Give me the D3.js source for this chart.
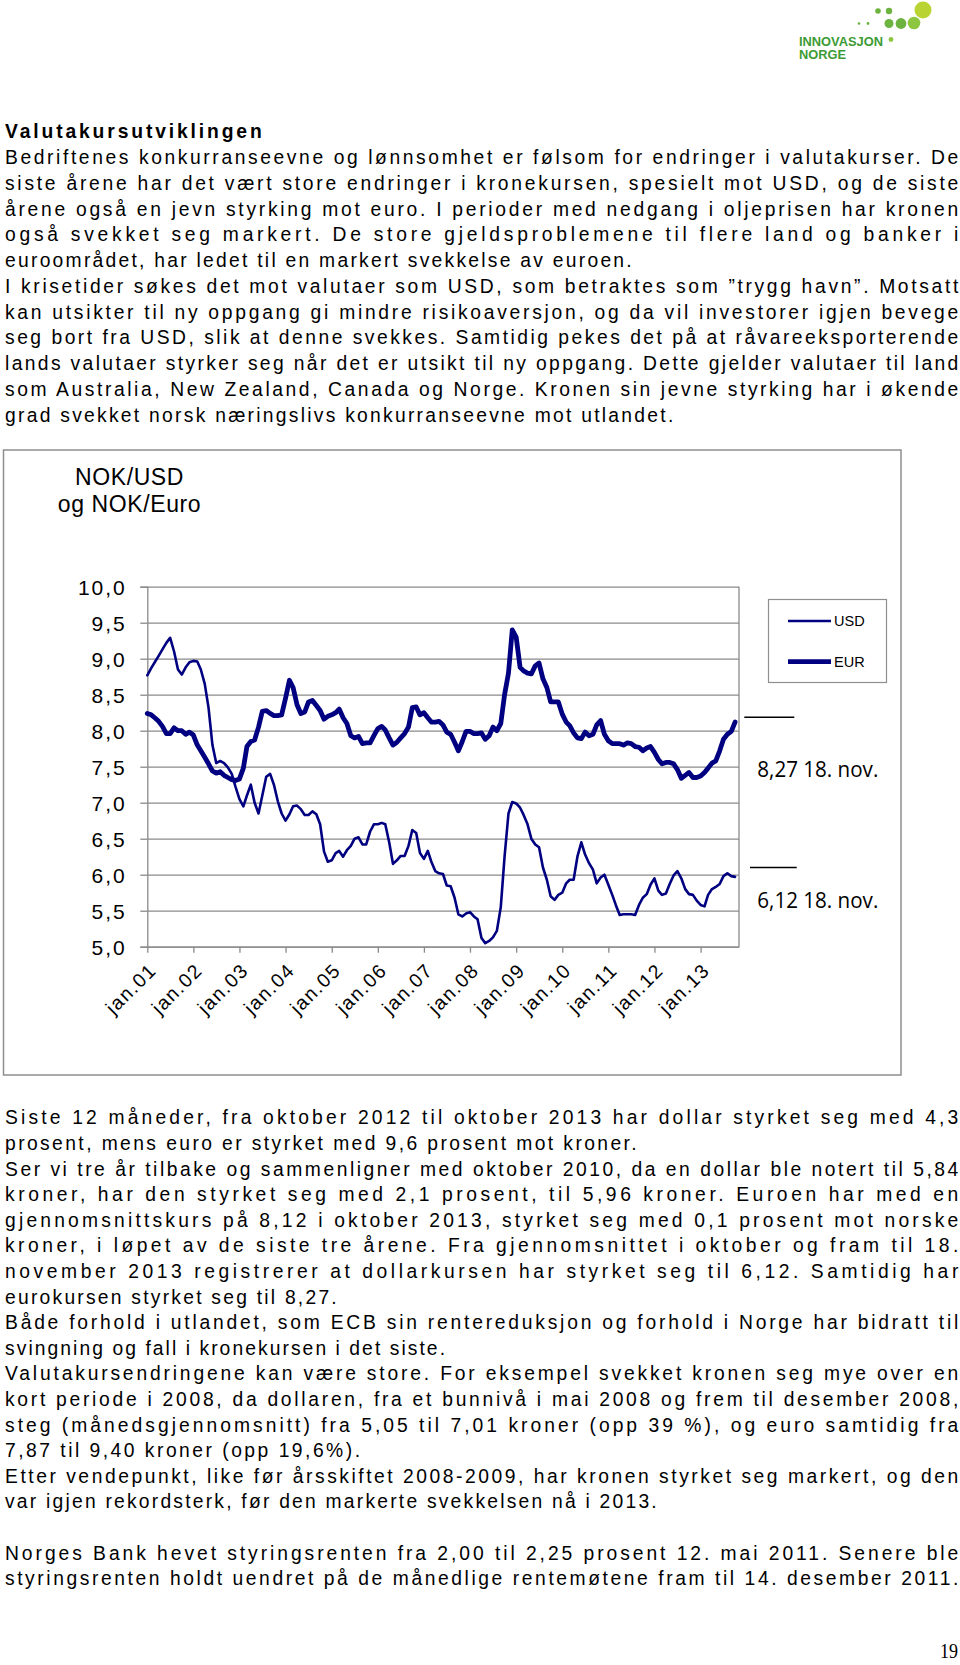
<!DOCTYPE html>
<html><head><meta charset="utf-8">
<script src="https://cdn.jsdelivr.net/npm/d3@7"></script>
<style>html,body{margin:0;padding:0;background:#fff;} svg{display:block;}</style>
</head><body><svg id="page" width="960" height="1665"></svg>
<script>
// ---------- DATA (monthly averages, jan 2001 - okt 2013) ----------
const startMonth = [2001, 0];
const usd = [
 8.77,8.87,8.95,9.04,9.13,9.22,9.29,9.10,8.85,8.78,8.88,8.95,
 8.97,8.96,8.85,8.65,8.32,7.80,7.55,7.58,7.55,7.49,7.40,7.22,
 7.05,6.95,7.10,7.25,7.00,6.85,7.10,7.36,7.40,7.25,7.02,6.85,
 6.75,6.84,6.95,6.96,6.91,6.83,6.83,6.88,6.84,6.70,6.32,6.18,
 6.20,6.30,6.33,6.25,6.34,6.40,6.50,6.52,6.42,6.42,6.60,6.70,
 6.70,6.72,6.70,6.45,6.15,6.20,6.26,6.26,6.40,6.62,6.58,6.30,
 6.22,6.33,6.18,6.05,6.02,6.01,5.85,5.84,5.68,5.45,5.42,5.46,
 5.48,5.42,5.38,5.12,5.05,5.08,5.13,5.22,5.55,6.25,6.85,7.01,
 6.99,6.93,6.83,6.70,6.50,6.42,6.38,6.10,5.93,5.70,5.65,5.72,
 5.75,5.88,5.93,5.93,6.25,6.45,6.28,6.16,6.07,5.88,5.96,6.00,
 5.86,5.72,5.58,5.44,5.45,5.45,5.45,5.44,5.58,5.68,5.73,5.86,
 5.95,5.78,5.72,5.74,5.87,5.99,6.05,5.95,5.80,5.73,5.72,5.64,
 5.58,5.56,5.72,5.80,5.83,5.87,5.98,6.02,5.98,5.97
];
const eur = [
 8.24,8.22,8.18,8.13,8.06,7.96,7.96,8.04,8.00,8.00,7.95,7.98,
 7.94,7.80,7.72,7.63,7.54,7.44,7.41,7.43,7.38,7.35,7.32,7.31,
 7.33,7.48,7.78,7.85,7.87,8.05,8.27,8.28,8.24,8.21,8.21,8.22,
 8.45,8.70,8.60,8.36,8.24,8.26,8.40,8.42,8.35,8.28,8.16,8.20,
 8.22,8.25,8.30,8.18,8.10,7.93,7.90,7.92,7.82,7.83,7.83,7.93,
 8.03,8.06,8.01,7.90,7.80,7.84,7.90,7.96,8.05,8.32,8.33,8.22,
 8.25,8.18,8.12,8.12,8.13,8.08,7.98,7.95,7.84,7.72,7.85,7.99,
 7.99,7.96,7.96,7.97,7.88,7.93,8.05,8.00,8.10,8.50,8.80,9.40,
 9.30,8.88,8.83,8.80,8.79,8.90,8.94,8.72,8.60,8.40,8.40,8.40,
 8.23,8.12,8.07,7.97,7.90,7.89,7.98,7.93,7.95,8.08,8.14,7.95,
 7.86,7.82,7.82,7.82,7.80,7.83,7.82,7.78,7.77,7.72,7.76,7.78,
 7.70,7.60,7.54,7.56,7.56,7.54,7.46,7.34,7.38,7.42,7.35,7.35,
 7.37,7.42,7.48,7.55,7.58,7.72,7.88,7.95,7.99,8.12
];
const seriesNames = ["USD", "EUR"];
const yTickValues = [5.0, 5.5, 6.0, 6.5, 7.0, 7.5, 8.0, 8.5, 9.0, 9.5, 10.0];
const xTickLabels = ["jan.01","jan.02","jan.03","jan.04","jan.05","jan.06","jan.07",
                     "jan.08","jan.09","jan.10","jan.11","jan.12","jan.13"];
const latestLabels = ["8,27 18. nov.", "6,12 18. nov."];
const latestValues = [8.27, 6.12];
const chartTitle = ["NOK/USD", "og NOK/Euro"];

// ---------- TEXT ----------
const heading = "Valutakursutviklingen";
const introLines = [
 "Bedriftenes konkurranseevne og lønnsomhet er følsom for endringer i valutakurser. De",
 "siste årene har det vært store endringer i kronekursen, spesielt mot USD, og de siste",
 "årene også en jevn styrking mot euro. I perioder med nedgang i oljeprisen har kronen",
 "også svekket seg markert. De store gjeldsproblemene til flere land og banker i",
 "euroområdet, har ledet til en markert svekkelse av euroen.",
 "I krisetider søkes det mot valutaer som USD, som betraktes som ”trygg havn”. Motsatt",
 "kan utsikter til ny oppgang gi mindre risikoaversjon, og da vil investorer igjen bevege",
 "seg bort fra USD, slik at denne svekkes. Samtidig pekes det på at råvareeksporterende",
 "lands valutaer styrker seg når det er utsikt til ny oppgang. Dette gjelder valutaer til land",
 "som Australia, New Zealand, Canada og Norge. Kronen sin jevne styrking har i økende",
 "grad svekket norsk næringslivs konkurranseevne mot utlandet."
];
const outroLines = [
 "Siste 12 måneder, fra oktober 2012 til oktober 2013 har dollar styrket seg med 4,3",
 "prosent, mens euro er styrket med 9,6 prosent mot kroner.",
 "Ser vi tre år tilbake og sammenligner med oktober 2010, da en dollar ble notert til 5,84",
 "kroner, har den styrket seg med 2,1 prosent, til 5,96 kroner. Euroen har med en",
 "gjennomsnittskurs på 8,12 i oktober 2013, styrket seg med 0,1 prosent mot norske",
 "kroner, i løpet av de siste tre årene. Fra gjennomsnittet i oktober og fram til 18.",
 "november 2013 registrerer at dollarkursen har styrket seg til 6,12. Samtidig har",
 "eurokursen styrket seg til 8,27.",
 "Både forhold i utlandet, som ECB sin rentereduksjon og forhold i Norge har bidratt til",
 "svingning og fall i kronekursen i det siste.",
 "Valutakursendringene kan være store. For eksempel svekket kronen seg mye over en",
 "kort periode i 2008, da dollaren, fra et bunnivå i mai 2008 og frem til desember 2008,",
 "steg (månedsgjennomsnitt) fra 5,05 til 7,01 kroner (opp 39 %), og euro samtidig fra",
 "7,87 til 9,40 kroner (opp 19,6%).",
 "Etter vendepunkt, like før årsskiftet 2008-2009, har kronen styrket seg markert, og den",
 "var igjen rekordsterk, før den markerte svekkelsen nå i 2013.",
 "",
 "Norges Bank hevet styringsrenten fra 2,00 til 2,25 prosent 12. mai 2011. Senere ble",
 "styringsrenten holdt uendret på de månedlige rentemøtene fram til 14. desember 2011."
];
const pageNumber = "19";

// ---------- LAYOUT ----------
const svg = d3.select("#page");
const FULL = 953.3;
const introWidths = [FULL,FULL,FULL,FULL,626.7,FULL,FULL,FULL,FULL,FULL,668.3];
const outroWidths = [FULL,631.7,FULL,FULL,FULL,FULL,FULL,331.7,FULL,440,FULL,FULL,FULL,355,FULL,651.7,0,FULL,FULL];
const bodyFont = "'Liberation Sans', Arial, sans-serif";
const bodySize = 19.3;

function textBlock(lines, widths, y0, step) {
  lines.forEach((t, i) => {
    if (!t) return;
    svg.append("text")
      .attr("x", 5).attr("y", y0 + i * step)
      .attr("font-family", bodyFont).attr("font-size", bodySize)
      .attr("textLength", widths[i]).attr("lengthAdjust", "spacing")
      .attr("fill", "#000")
      .text(t);
  });
}
svg.append("text").attr("x", 5).attr("y", 138.3)
  .attr("font-family", bodyFont).attr("font-size", bodySize).attr("font-weight", "bold")
  .attr("textLength", 256.7).attr("lengthAdjust", "spacing").text(heading);
textBlock(introLines, introWidths, 164, 25.77);
textBlock(outroLines, outroWidths, 1124.3, 25.6);

svg.append("text").attr("x", 940).attr("y", 1658)
  .attr("font-family", "'Liberation Serif', 'Times New Roman', serif")
  .attr("font-size", 20).attr("textLength", 18).attr("lengthAdjust", "spacingAndGlyphs")
  .text(pageNumber);

// ---------- LOGO ----------
const logo = svg.append("g");
[[923,10,8.5,"#b9d432"],[914,23,6.3,"#8dc63f"],[901,23.5,5.4,"#6cb33f"],[889,23.5,4.5,"#6cb33f"],
 [889,11,3.2,"#6cb33f"],[878,11,2.8,"#6cb33f"],[868,23.5,1.4,"#6cb33f"],[859,23.5,1.3,"#6cb33f"],
 [891,39.5,2.4,"#8dc63f"]].forEach(d => {
  logo.append("circle").attr("cx", d[0]).attr("cy", d[1]).attr("r", d[2]).attr("fill", d[3]);
});
logo.append("text").attr("x", 799).attr("y", 46).attr("font-family", bodyFont)
  .attr("font-size", 13).attr("font-weight", "bold").attr("fill", "#3d9b35")
  .attr("textLength", 84).attr("lengthAdjust", "spacingAndGlyphs").text("INNOVASJON");
logo.append("text").attr("x", 799).attr("y", 59).attr("font-family", bodyFont)
  .attr("font-size", 13).attr("font-weight", "bold").attr("fill", "#3d9b35")
  .attr("textLength", 47).attr("lengthAdjust", "spacingAndGlyphs").text("NORGE");

// ---------- CHART ----------
const chart = svg.append("g");
chart.append("rect").attr("x", 3.5).attr("y", 450).attr("width", 897.5).attr("height", 625)
  .attr("fill", "none").attr("stroke", "#8f8f8f").attr("stroke-width", 1.5);

chartTitle.forEach((t, i) => {
  chart.append("text").attr("x", 129.5).attr("y", 485 + i * 26.7)
    .attr("text-anchor", "middle").attr("font-family", bodyFont).attr("font-size", 23)
    .attr("letter-spacing", 0.6).text(t);
});

const dates = usd.map((_, i) => new Date(startMonth[0], startMonth[1] + i, 1));
const x = d3.scaleTime()
  .domain([new Date(2001, 0, 1), new Date(2013, 10, 1)])
  .range([147.3, 739]);
const y = d3.scaleLinear().domain([5, 10]).range([946.7, 586.7]);
const gridColor = "#8a8a8a";

// horizontal gridlines + y labels
const yAxis = d3.axisLeft(y).tickValues(yTickValues).tickSize(7)
  .tickFormat(d => d3.format(".1f")(d).replace(".", ","));
const gy = chart.append("g").attr("transform", "translate(147.3,0)").call(yAxis);
gy.select(".domain").attr("stroke", gridColor).attr("stroke-width", 1.3);
gy.selectAll(".tick line").attr("stroke", gridColor).attr("stroke-width", 1.3);
gy.selectAll(".tick").append("line").attr("x1", 0).attr("x2", 739 - 147.3)
  .attr("stroke", gridColor).attr("stroke-width", 1.3);
gy.selectAll(".tick text").attr("x", -20.5).attr("dy", "0.36em")
  .attr("font-family", bodyFont).attr("font-size", 21).attr("letter-spacing", 2)
  .attr("fill", "#000");

// right border of plot
chart.append("line").attr("x1", 739).attr("x2", 739).attr("y1", y(10)).attr("y2", y(5))
  .attr("stroke", gridColor).attr("stroke-width", 1.3);

// x axis
const xTicks = xTickLabels.map((_, i) => new Date(2001 + i, 0, 1));
const xAxis = d3.axisBottom(x).tickValues(xTicks).tickSize(6).tickSizeOuter(0)
  .tickFormat((d, i) => xTickLabels[i]);
const gx = chart.append("g").attr("transform", `translate(0,${y(5)})`).call(xAxis);
gx.select(".domain").attr("stroke", gridColor).attr("stroke-width", 1.3);
gx.selectAll(".tick line").attr("stroke", gridColor).attr("stroke-width", 1.3);
gx.selectAll(".tick text")
  .attr("y", 0).attr("dy", "0.35em")
  .attr("text-anchor", "end")
  .attr("transform", "translate(5,20) rotate(-45)")
  .attr("font-family", bodyFont).attr("font-size", 19.5).attr("letter-spacing", 1.5)
  .attr("fill", "#000");

// lines
const line = d3.line().x((d, i) => x(dates[i])).y(d => y(d));
const seriesStyle = { USD: 2.6, EUR: 4.8 };
[[usd, "USD"], [eur, "EUR"]].forEach(([vals, name]) => {
  chart.append("path").datum(vals).attr("d", line)
    .attr("fill", "none").attr("stroke", "#000080")
    .attr("stroke-width", seriesStyle[name])
    .attr("stroke-linejoin", "round").attr("stroke-linecap", "round");
});

// legend
const lg = chart.append("g");
lg.append("rect").attr("x", 768.5).attr("y", 599.5).attr("width", 118).attr("height", 83)
  .attr("fill", "#fff").attr("stroke", "#8f8f8f").attr("stroke-width", 1.2);
seriesNames.forEach((n, i) => {
  const yy = 621 + i * 40.7;
  lg.append("line").attr("x1", 788).attr("x2", 831).attr("y1", yy).attr("y2", yy)
    .attr("stroke", "#000080").attr("stroke-width", seriesStyle[n]);
  lg.append("text").attr("x", 834).attr("y", yy + 5.3).attr("font-family", bodyFont)
    .attr("font-size", 14.5).text(n);
});

// latest-value annotations
const annoLayout = [{x1: 744.3, x2: 794.3, dy: 6, ty: 60}, {x1: 750, x2: 796.7, dy: 1.5, ty: 40.5}];
latestValues.forEach((v, i) => {
  const L = annoLayout[i];
  const yy = y(v) + L.dy;
  chart.append("line").attr("x1", L.x1).attr("x2", L.x2).attr("y1", yy).attr("y2", yy)
    .attr("stroke", "#000").attr("stroke-width", 1.6);
  chart.append("text").attr("x", 757.3).attr("y", yy + L.ty)
    .attr("font-family", "'Open Sans', sans-serif").attr("font-size", 21)
    .attr("textLength", 121).attr("lengthAdjust", "spacingAndGlyphs")
    .text(latestLabels[i]);
});
</script></body></html>
